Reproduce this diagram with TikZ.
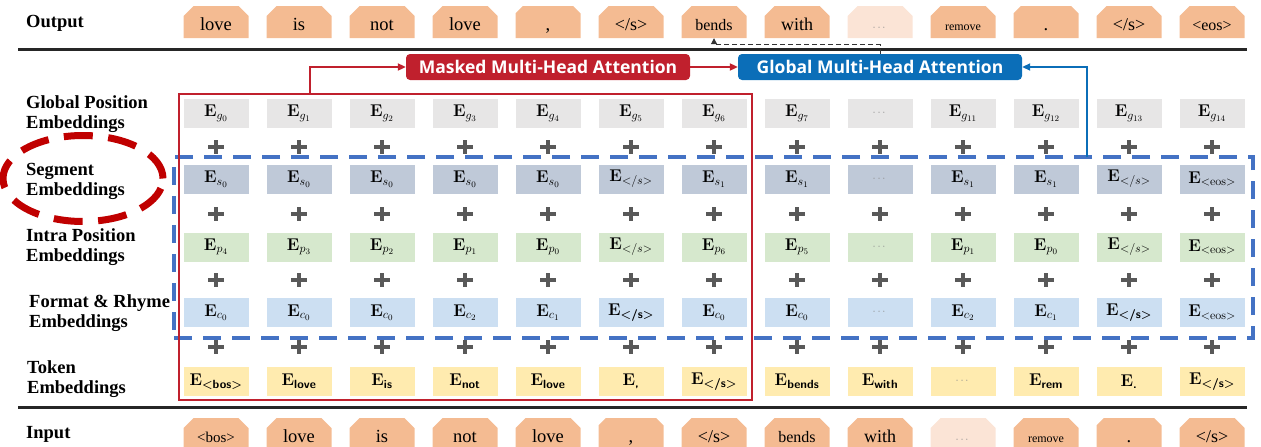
\RequirePackage{fix-cm}
\documentclass[tikz,border=0pt]{standalone}
\usepackage{amsmath}
\usepackage[no-math]{fontspec}
\newfontfamily\tnr{Liberation Serif}
\newfontfamily\attf{Open Sans}
\usetikzlibrary{shapes.misc,arrows.meta}
\definecolor{tokor}{HTML}{F4BB92}
\definecolor{tokorl}{HTML}{FBE4D6}
\definecolor{cg}{HTML}{E7E6E6}
\definecolor{cs}{HTML}{BFC9D8}
\definecolor{cp}{HTML}{D6E8CD}
\definecolor{cc}{HTML}{CCDFF2}
\definecolor{ct}{HTML}{FFEBAF}
\definecolor{mred}{HTML}{C0202D}
\definecolor{ered}{HTML}{C00000}
\definecolor{gblue}{HTML}{0B6EB8}
\definecolor{dblue}{HTML}{4472C4}
\definecolor{plusg}{HTML}{595959}
\definecolor{dotg}{HTML}{8C8C8C}
\newcommand\Eb[1]{$\mathbf{E}_{#1}$}
\newcommand\sft[1]{\textsf{\bfseries #1}}
\newcommand\mydots{{\color{dotg}\fontsize{11}{12}\selectfont$\cdots$}}
\begin{document}
\begin{tikzpicture}[x=1pt,y=-1pt,
  lbl/.style={anchor=west, align=left, inner sep=0, font=\tnr\bfseries\fontsize{18.5}{20}\selectfont},
  tok/.style={chamfered rectangle, chamfered rectangle corners={north west,north east},
    chamfered rectangle xsep=5pt, chamfered rectangle ysep=5pt, fill=tokor,
    minimum width=65pt, minimum height=32pt, inner sep=0, text height=18pt, text depth=2pt,
    font=\tnr\fontsize{18.5}{20}\selectfont},
  tokl/.style={tok, fill=tokorl},
  cell/.style={rectangle, minimum width=65pt, minimum height=29pt, inner sep=0, font=\fontsize{17}{19}\selectfont},
  att/.style={rectangle, rounded corners=4pt, minimum width=284pt, minimum height=26pt, inner sep=0,
    text=white, font=\attf\bfseries\fontsize{17.5}{19}\selectfont},
  plusst/.style={draw=plusg, line width=3.6pt},
  sepline/.style={draw=black!85, line width=3pt},
  rarr/.style={draw=mred, line width=2pt, -{Triangle[length=8pt,width=7pt]}},
  barr/.style={draw=gblue, line width=2pt, -{Triangle[length=8pt,width=7pt]}},
  darr/.style={draw=black!80, line width=1pt, dash pattern=on 5pt off 3pt, -{Triangle[length=6pt,width=6pt]}},
  redframe/.style={draw=mred, line width=2.8pt, rectangle, inner sep=0},
  bluedash/.style={draw=dblue, line width=3.6pt, dash pattern=on 18pt off 11pt, rectangle, inner sep=0},
  redell/.style={draw=ered, line width=7pt, dash pattern=on 29pt off 15.5pt}
]
\useasboundingbox (0,0) rectangle (1261,447);

% output row
\node[tok] (o0) at (216,22) {love};
\node[tok] (o1) at (299,22) {is};
\node[tok] (o2) at (382,22) {not};
\node[tok] (o3) at (465,22) {love};
\node[tok] (o4) at (548,22) {,};
\node[tok,font=\tnr\fontsize{18}{20}\selectfont] (o5) at (631,22) {</s>};
\node[tok,font=\tnr\fontsize{16}{18}\selectfont] (o6) at (714,22) {bends};
\node[tok,font=\tnr\fontsize{18}{20}\selectfont] (o7) at (797,22) {with};
\node[tokl] (o8) at (880,22) {\mydots};
\node[tok,font=\tnr\fontsize{12}{14}\selectfont] (o9) at (963,22) {remove};
\node[tok] (o10) at (1046,22) {.};
\node[tok,font=\tnr\fontsize{18}{20}\selectfont] (o11) at (1129,22) {</s>};
\node[tok,font=\tnr\fontsize{16}{18}\selectfont] (o12) at (1212,22) {<eos>};

% input row
\node[tok,font=\tnr\fontsize{15}{17}\selectfont] (i0) at (216,434) {<bos>};
\node[tok] (i1) at (299,434) {love};
\node[tok] (i2) at (382,434) {is};
\node[tok] (i3) at (465,434) {not};
\node[tok] (i4) at (548,434) {love};
\node[tok] (i5) at (631,434) {,};
\node[tok,font=\tnr\fontsize{18}{20}\selectfont] (i6) at (714,434) {</s>};
\node[tok,font=\tnr\fontsize{16}{18}\selectfont] (i7) at (797,434) {bends};
\node[tok,font=\tnr\fontsize{18}{20}\selectfont] (i8) at (880,434) {with};
\node[tokl] (i9) at (963,434) {\mydots};
\node[tok,font=\tnr\fontsize{12}{14}\selectfont] (i10) at (1046,434) {remove};
\node[tok] (i11) at (1129,434) {.};
\node[tok,font=\tnr\fontsize{18}{20}\selectfont] (i12) at (1212,434) {</s>};

% embedding rows
\foreach \t [count=\i from 0] in {{\Eb{g_0}},{\Eb{g_1}},{\Eb{g_2}},{\Eb{g_3}},{\Eb{g_4}},{\Eb{g_5}},{\Eb{g_6}},{\Eb{g_7}},{\mydots},{\Eb{g_{11}}},{\Eb{g_{12}}},{\Eb{g_{13}}},{\Eb{g_{14}}}}
  \node[cell,fill=cg] (g\i) at ({216+83*\i},113.5) {\t};
\foreach \t [count=\i from 0] in {{\Eb{s_0}},{\Eb{s_0}},{\Eb{s_0}},{\Eb{s_0}},{\Eb{s_0}},{\Eb{</s>}},{\Eb{s_1}},{\Eb{s_1}},{\mydots},{\Eb{s_1}},{\Eb{s_1}},{\Eb{</s>}},{\Eb{<\mathrm{eos}>}}}
  \node[cell,fill=cs] (s\i) at ({216+83*\i},179) {\t};
\foreach \t [count=\i from 0] in {{\Eb{p_4}},{\Eb{p_3}},{\Eb{p_2}},{\Eb{p_1}},{\Eb{p_0}},{\Eb{</s>}},{\Eb{p_6}},{\Eb{p_5}},{\mydots},{\Eb{p_1}},{\Eb{p_0}},{\Eb{</s>}},{\Eb{<\mathrm{eos}>}}}
  \node[cell,fill=cp] (p\i) at ({216+83*\i},247) {\t};
\foreach \t [count=\i from 0] in {{\Eb{c_0}},{\Eb{c_0}},{\Eb{c_0}},{\Eb{c_2}},{\Eb{c_1}},{\Eb{\sft{</s>}}},{\Eb{c_0}},{\Eb{c_0}},{\mydots},{\Eb{c_2}},{\Eb{c_1}},{\Eb{\sft{</s>}}},{\Eb{<\mathrm{eos}>}}}
  \node[cell,fill=cc] (c\i) at ({216+83*\i},312.5) {\t};
\foreach \t [count=\i from 0] in {{\Eb{\sft{<bos>}}},{\Eb{\sft{love}}},{\Eb{\sft{is}}},{\Eb{\sft{not}}},{\Eb{\sft{love}}},{\Eb{\sft{,}}},{\Eb{\sft{</s>}}},{\Eb{\sft{bends}}},{\Eb{\sft{with}}},{\mydots},{\Eb{\sft{rem}}},{\Eb{\sft{.}}},{\Eb{\sft{</s>}}}}
  \node[cell,fill=ct] (t\i) at ({216+83*\i},381.5) {\t};

% plus signs
\foreach \y in {147,214,280,347}
  \foreach \i in {0,...,12}
    \draw[plusst] ({216+83*\i-8},\y) -- ++(16,0) ({216+83*\i},{\y-7}) -- ++(0,14);

% separator lines
\coordinate (s1a) at (18,49.5); \coordinate (s1b) at (1247,49.5);
\coordinate (s2a) at (18,407); \coordinate (s2b) at (1247,407);
\draw[sepline] (s1a) -- (s1b);
\draw[sepline] (s2a) -- (s2b);

% frames
\node[bluedash, minimum width=1079pt, minimum height=181pt] (bfr) at (713.5,247.5) {};
\node[redframe, minimum width=573pt, minimum height=306pt] (rfr) at (465.5,247) {};

% attention boxes
\node[att,fill=mred] (matt) at (548,67) {Masked Multi-Head Attention};
\node[att,fill=gblue] (gatt) at (880,67) {Global Multi-Head Attention};

\coordinate (rtap) at (310,94);
\coordinate (btap) at (1087,157);
\draw[rarr] (rtap) |- (matt.west);
\draw[rarr] (matt.east) -- (gatt.west);
\draw[barr] (btap) |- (gatt.east);
\draw[darr] (gatt.north) -- ++(0,-9) -| (o6.south);

% ellipse
\draw[redell] (83,178.5) ellipse [x radius=80pt, y radius=43pt];

% labels
\node[lbl] (lout) at (26,23) {Output};
\node[lbl] (lgp) at (26,114) {Global Position\\Embeddings};
\node[lbl] (lseg) at (26,181) {Segment\\Embeddings};
\node[lbl] (lip) at (26,247) {Intra Position\\Embeddings};
\node[lbl] (lfr) at (29,313) {Format \& Rhyme\\Embeddings};
\node[lbl] (ltok) at (27,379) {Token\\Embeddings};
\node[lbl] (lin) at (26,434) {Input};
\end{tikzpicture}
\end{document}
